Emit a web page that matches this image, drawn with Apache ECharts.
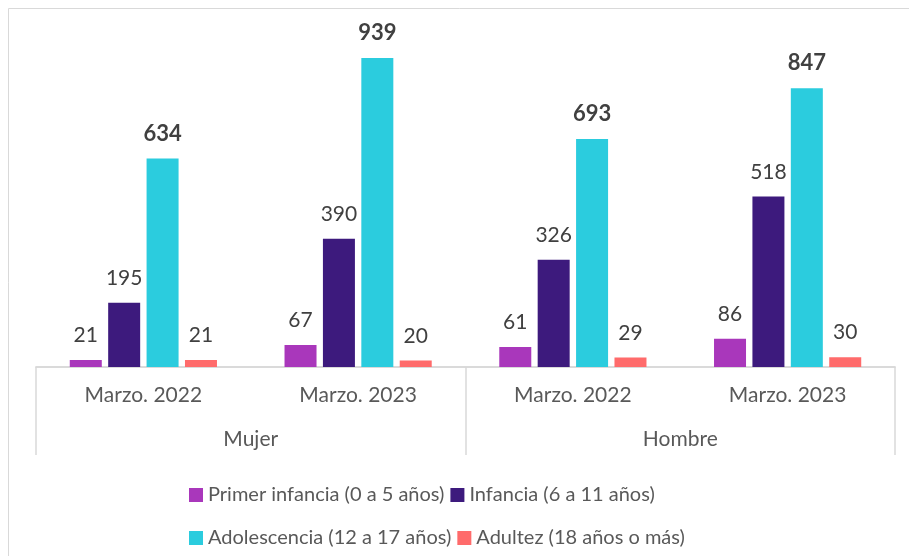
<!DOCTYPE html>
<html>
<head>
<meta charset="utf-8">
<script src="https://cdn.jsdelivr.net/npm/echarts@6/dist/echarts.min.js"></script>
<style>
  html, body { margin: 0; padding: 0; background: #fff; }
  #chart { width: 909px; height: 556px; }
</style>
</head>
<body>
<div id="chart"></div>
<script>
  // datos
  var periodos = ['Marzo. 2022', 'Marzo. 2023', 'Marzo. 2022', 'Marzo. 2023'];
  var sexos = ['Mujer', 'Hombre'];
  var nombres = ['Primer infancia (0 a 5 años)', 'Infancia (6 a 11 años)',
                 'Adolescencia (12 a 17 años)', 'Adultez (18 años o más)'];
  var primerInfancia = [21, 67, 61, 86];
  var infancia = [195, 390, 326, 518];
  var adolescencia = [634, 939, 693, 847];
  var adultez = [21, 20, 29, 30];
  var colores = ['#A937BB', '#3D1A7D', '#2BCCDE', '#FF6B6B'];

  var fuente = 'Lato';
  var chart = echarts.init(document.getElementById('chart'));

  function serie(i, valores, negrita) {
    return {
      name: nombres[i],
      type: 'bar',
      xAxisIndex: 0,
      data: valores,
      barWidth: 32,
      barGap: '20%',
      itemStyle: { color: colores[i] },
      label: {
        show: true,
        position: 'top',
        distance: 14,
        fontFamily: fuente,
        fontSize: negrita ? 22 : 21,
        fontWeight: negrita ? 'bold' : 'normal',
        color: '#404040'
      }
    };
  }

  chart.setOption({
    animation: false,
    graphic: [{
      type: 'rect',
      shape: { x: 8.5, y: 8.5, width: 920, height: 580 },
      style: { fill: 'none', stroke: '#D9D9D9', lineWidth: 1 },
      silent: true
    }],
    grid: { left: 36, right: 14, top: 38, bottom: 189 },
    legend: [{
      data: nombres.slice(0, 2),
      left: 184, top: 480,
      icon: 'rect', itemWidth: 14, itemHeight: 14, itemGap: 6,
      textStyle: { fontFamily: fuente, fontSize: 20, color: '#595959' }
    }, {
      data: nombres.slice(2, 4),
      left: 184, top: 523,
      icon: 'rect', itemWidth: 14, itemHeight: 14, itemGap: 6,
      textStyle: { fontFamily: fuente, fontSize: 20, color: '#595959' }
    }],
    xAxis: [{
      type: 'category',
      data: periodos,
      position: 'bottom',
      axisLine: { lineStyle: { color: '#D9D9D9', width: 1.5 } },
      axisTick: { show: false },
      axisLabel: { margin: 18, fontFamily: fuente, fontSize: 21, color: '#595959' }
    }, {
      type: 'category',
      data: sexos,
      position: 'bottom',
      axisLine: { lineStyle: { color: '#D9D9D9', width: 1.5 } },
      axisTick: { show: true, length: 88, lineStyle: { color: '#D9D9D9', width: 1.5 } },
      axisLabel: { margin: 62, fontFamily: fuente, fontSize: 21, color: '#595959' }
    }],
    yAxis: {
      type: 'value',
      min: 0,
      max: 1000,
      show: false,
      splitLine: { show: false }
    },
    series: [
      serie(0, primerInfancia, false),
      serie(1, infancia, false),
      serie(2, adolescencia, true),
      serie(3, adultez, false)
    ]
  });
</script>
</body>
</html>
